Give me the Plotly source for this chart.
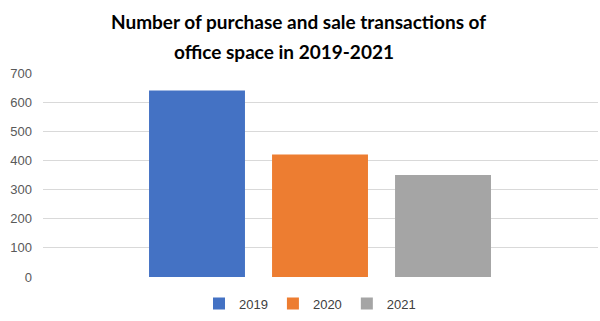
import plotly.graph_objects as go

years = ["2019", "2020", "2021"]
transactions = [640, 420, 350]
colors = ["#4472C4", "#ED7D31", "#A5A5A5"]
y_ticks = [0, 100, 200, 300, 400, 500, 600, 700]
title_lines = ["Number of purchase and sale transactions of", "office space in 2019-2021"]

W, H = 600, 321
L, R, T, B = 43, 2, 73, 41
pw, ph = W - L - R, H - T - B

def px_x(p):
    return (p - L) / pw

def px_y(p):
    return (H - B - p) / ph

fig = go.Figure()
for i, (yr, v, c) in enumerate(zip(years, transactions, colors)):
    fig.add_trace(go.Bar(
        x=[i], y=[v], name=yr, marker=dict(color=c, line=dict(width=0)),
        width=0.78, showlegend=True,
    ))

fig.update_layout(
    width=W, height=H,
    margin=dict(l=L, r=R, t=T, b=B, pad=0),
    paper_bgcolor="white", plot_bgcolor="white",
    barmode="overlay",
    font=dict(family="Liberation Sans", size=13, color="#595959"),
    xaxis=dict(range=[-1.252, 3.26], showticklabels=False, showgrid=False,
               zeroline=False, showline=False, ticks=""),
    yaxis=dict(range=[0, 700], tickvals=y_ticks, showgrid=True,
               gridcolor="#D9D9D9", gridwidth=1, zeroline=False,
               showline=False, ticks="", ticklabelstandoff=10,
               tickfont=dict(family="Liberation Sans", size=13, color="#595959")),
    legend=dict(orientation="h", x=px_x(310), xanchor="center",
                y=px_y(307), yanchor="middle",
                font=dict(family="Liberation Sans", size=13, color="#404040"),
                bgcolor="rgba(0,0,0,0)", itemwidth=30, traceorder="normal",
                tracegroupgap=0),
    showlegend=True,
)

for line, cx, cy in zip(title_lines, [298, 284], [21, 51]):
    fig.add_annotation(text="<b>" + line + "</b>", x=px_x(cx), y=px_y(cy),
                       xref="paper", yref="paper", xanchor="center", yanchor="middle",
                       showarrow=False,
                       font=dict(family="Lato", size=19, color="black"))

fig.write_html("out.html")
